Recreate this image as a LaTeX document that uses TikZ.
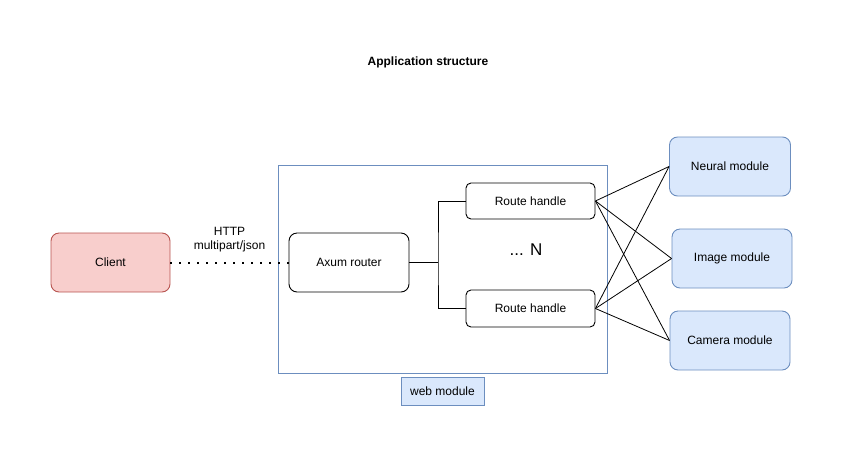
\documentclass[tikz,border=0pt]{standalone}
\usepackage{fontspec}
\setmainfont{Liberation Sans}
\definecolor{redfill}{HTML}{F8CECC}
\definecolor{redline}{HTML}{B85450}
\definecolor{bluefill}{HTML}{DAE8FC}
\definecolor{blueline}{HTML}{6C8EBF}
\tikzset{
  box/.style={draw=black, line width=0.9pt, rounded corners=8pt, inner sep=0pt, align=center, font=\fontsize{12}{14}\selectfont},
  smallbox/.style={box, rounded corners=5pt},
  modbox/.style={box, draw=blueline, fill=bluefill, minimum width=120pt, minimum height=59pt},
  conn/.style={draw=black, line width=0.8pt},
}
\begin{document}
\begin{tikzpicture}[x=1pt, y=-1pt]
\useasboundingbox (0,0) rectangle (843,456);
\node[font=\bfseries\fontsize{12}{14}\selectfont] (title) at (428,62) {Application structure};
\node[draw=blueline, line width=0.9pt, minimum width=329pt, minimum height=208pt, inner sep=0pt] (web) at (442.5,269) {};
\node[box, draw=redline, fill=redfill, minimum width=119pt, minimum height=59pt] (client) at (110.5,262.5) {Client};
\node[box, minimum width=120pt, minimum height=59pt] (axum) at (349,262.5) {Axum router};
\node[smallbox, minimum width=129pt, minimum height=36pt] (rh1) at (530.5,201) {Route handle};
\node[smallbox, minimum width=129pt, minimum height=37pt] (rh2) at (530.5,308.5) {Route handle};
\node[font=\fontsize{17}{20}\selectfont, inner sep=0pt] (dots) at (526,250) {... N};
\node[modbox, minimum width=121pt] (neural) at (730,166.5) {Neural module};
\node[modbox] (image) at (732,258.5) {Image module};
\node[modbox] (camera) at (730,340.5) {Camera module};
\node[draw=blueline, fill=bluefill, line width=0.9pt, minimum width=83pt, minimum height=28pt, inner sep=0pt, font=\fontsize{12}{14}\selectfont] (weblabel) at (442.5,391) {web module};
\draw[line width=2pt, dash pattern=on 2pt off 7pt] (client.east) -- (axum.west)
  node[midway, above=6pt, align=center, font=\fontsize{12}{14}\selectfont] (http) {HTTP\\multipart/json};
\coordinate (j) at (438,262.5);
\draw[conn] (axum.east) -- (j);
\draw[conn] (rh1.west) -| (j) |- (rh2.west);
\foreach \r in {rh1,rh2}{
  \draw[conn] (\r.east) -- (neural.west);
  \draw[conn] (\r.east) -- (image.west);
  \draw[conn] (\r.east) -- (camera.west);
}
\end{tikzpicture}
\end{document}
